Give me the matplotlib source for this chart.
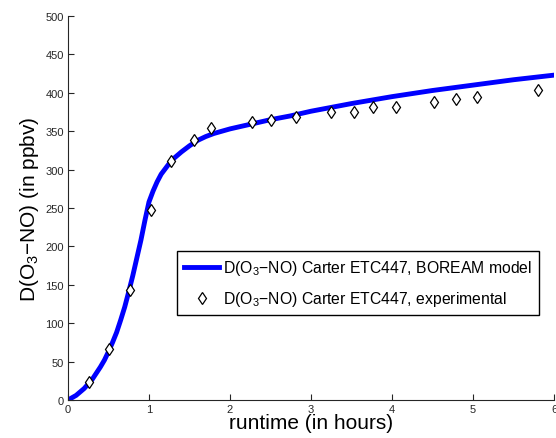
import matplotlib
matplotlib.use('Agg')
from matplotlib import pyplot as plt
import numpy as np

plt.rcParams['font.family'] = ['Liberation Sans', 'DejaVu Sans']
plt.rcParams['mathtext.fontset'] = 'custom'
plt.rcParams['mathtext.rm'] = 'Liberation Sans'

# BOREAM model curve
model_t = [0, 0.1, 0.2, 0.3, 0.35, 0.4, 0.45, 0.5, 0.55, 0.6, 0.65, 0.7, 0.75, 0.8,
           0.85, 0.9, 0.95, 1.0, 1.05, 1.1, 1.15, 1.2, 1.25, 1.3, 1.4, 1.5, 1.6,
           1.7, 1.8, 1.9, 2.0, 2.25, 2.5, 2.75, 3.0, 3.5, 4.0, 4.5, 5.0, 5.5, 6.0]
model_d = [0, 6, 15, 27, 35, 43, 52, 63, 75, 88, 104, 121, 141, 162,
           185, 208, 234, 258, 272, 284, 294, 301, 308, 314, 323, 331, 338,
           343, 347, 350, 353, 359, 365, 370, 376, 386, 395, 403, 410, 417, 423]

# experimental points
exp_t = [0.26, 0.51, 0.765, 1.03, 1.27, 1.55, 1.76, 2.27, 2.51, 2.81, 3.25, 3.53,
         3.77, 4.05, 4.52, 4.79, 5.05, 5.80]
exp_d = [23, 66, 143, 248, 311, 338, 354, 362, 365, 368, 375, 375,
         381, 382, 388, 392, 395, 403]

lbl_model = r'D(O$_3$$-$NO) Carter ETC447, BOREAM model'
lbl_exp = r'D(O$_3$$-$NO) Carter ETC447, experimental'

fig = plt.figure(figsize=(5.56, 4.39), dpi=100)
ax = fig.add_axes([68/556, 1 - 401/439, 486/556, 384/439])

ax.plot(model_t, model_d, color='#0000ff', linewidth=3.5, label=lbl_model,
        solid_joinstyle='round')
ax.plot(exp_t, exp_d, linestyle='none', marker='d', ms=6.5, mfc='white',
        mec='black', mew=0.9, label=lbl_exp)

ax.set_xlim(0, 6)
ax.set_ylim(0, 500)
ax.set_xticks(range(0, 7))
ax.set_yticks(range(0, 501, 50))
ax.tick_params(direction='in', length=4, labelsize=8, colors='#262626',
               top=False, right=False, pad=3)
ax.spines['top'].set_visible(False)
ax.spines['right'].set_visible(False)
for s in ['left', 'bottom']:
    ax.spines[s].set_color('#262626')
    ax.spines[s].set_linewidth(0.8)

ax.set_xlabel('runtime (in hours)', fontsize=15, labelpad=-1)
ax.set_ylabel(r'D(O$_3$$-$NO) (in ppbv)', fontsize=15, labelpad=3)

leg = ax.legend(loc='lower left', bbox_to_anchor=(0.224, 0.221), fontsize=11.3,
                fancybox=False, edgecolor='black', framealpha=1,
                handlelength=2.25, borderpad=0.45, labelspacing=0.75,
                handletextpad=0.25, borderaxespad=0)
leg.get_frame().set_linewidth(1.0)

plt.savefig('out.png', dpi=100)
